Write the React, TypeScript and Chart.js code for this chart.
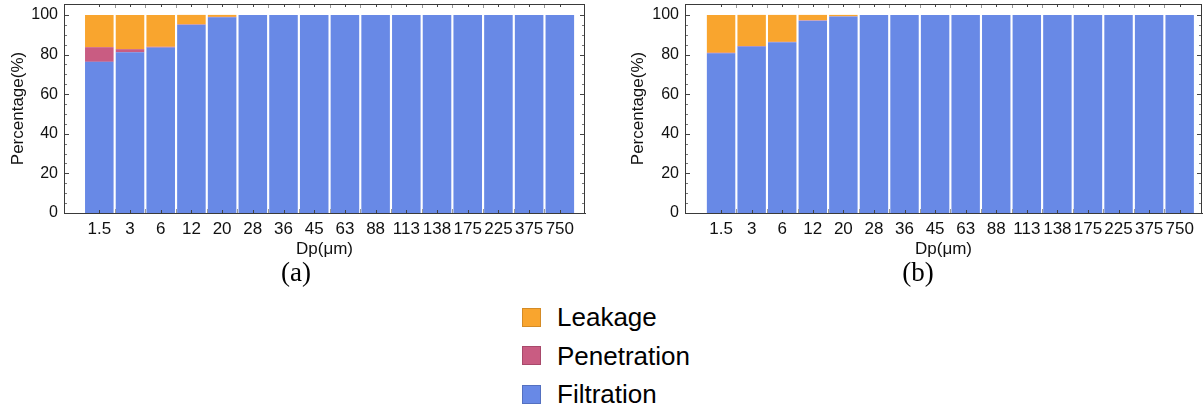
import React, { useEffect, useRef } from "react";
import { Chart, registerables } from "chart.js";

Chart.register(...registerables);

const categories = ["1.5", "3", "6", "12", "20", "28", "36", "45", "63", "88", "113", "138", "175", "225", "375", "750"];

const filtrationA = [76.3, 81.1, 83.5, 95.0, 98.8, 100, 100, 100, 100, 100, 100, 100, 100, 100, 100, 100];
const penetrationA = [7.4, 1.6, 0.4, 0.2, 0.2, 0, 0, 0, 0, 0, 0, 0, 0, 0, 0, 0];
const leakageA = [16.3, 17.3, 16.1, 4.8, 1.0, 0, 0, 0, 0, 0, 0, 0, 0, 0, 0, 0];

const filtrationB = [80.6, 84.0, 86.2, 97.1, 99.2, 100, 100, 100, 100, 100, 100, 100, 100, 100, 100, 100];
const penetrationB = [0.3, 0.3, 0.2, 0.2, 0.1, 0, 0, 0, 0, 0, 0, 0, 0, 0, 0, 0];
const leakageB = [19.1, 15.7, 13.6, 2.7, 0.7, 0, 0, 0, 0, 0, 0, 0, 0, 0, 0, 0];

const yTicks = [0, 20, 40, 60, 80, 100];
const yMinorTicks = [5, 10, 15, 25, 30, 35, 45, 50, 55, 65, 70, 75, 85, 90, 95];

const BLUE = "#6889e6";
const PINK = "#c95c82";
const ORANGE = "#f9a52e";
const FONT = "'Liberation Sans', Arial, sans-serif";

const framePlugin = {
  id: "frame",
  afterDraw(chart: any) {
    const { ctx, chartArea: a } = chart;
    const xs = chart.scales.x;
    const ys = chart.scales.y;
    ctx.save();
    ctx.lineWidth = 1;
    const vline = (x: number, y0: number, y1: number, c: string) => {
      ctx.strokeStyle = c;
      ctx.beginPath();
      ctx.moveTo(Math.round(x) + 0.5, y0);
      ctx.lineTo(Math.round(x) + 0.5, y1);
      ctx.stroke();
    };
    const hline = (y: number, x0: number, x1: number, c: string) => {
      ctx.strokeStyle = c;
      ctx.beginPath();
      ctx.moveTo(x0, Math.round(y) + 0.5);
      ctx.lineTo(x1, Math.round(y) + 0.5);
      ctx.stroke();
    };
    categories.forEach((_, i) => {
      const xc = xs.getPixelForValue(i + 1);
      vline(xc, a.bottom - 3, a.bottom, "#444");
      vline(xc, a.top, a.top + 3, "#444");
      if (i > 0) {
        const xb = xs.getPixelForValue(i + 0.5);
        vline(xb, a.bottom - 4, a.bottom, "#999");
        vline(xb, a.top, a.top + 4, "#999");
      }
    });
    yTicks.forEach((v) => {
      const y = ys.getPixelForValue(v);
      hline(y, a.left, a.left + 5, "#444");
      hline(y, a.right - 5, a.right, "#444");
    });
    yMinorTicks.forEach((v) => {
      const y = ys.getPixelForValue(v);
      hline(y, a.left, a.left + 3, "#777");
      hline(y, a.right - 3, a.right, "#777");
    });
    ctx.strokeStyle = "#3a3a3a";
    ctx.strokeRect(Math.round(a.left) + 0.5, Math.round(a.top) + 0.5, Math.round(a.right - a.left) - 1, Math.round(a.bottom - a.top));
    ctx.restore();
  },
};

type PanelProps = {
  filtration: number[];
  penetration: number[];
  leakage: number[];
  xMin: number;
  xMax: number;
  axisWidth: number;
  padRight: number;
  width: number;
  left: number;
};

function Panel(p: PanelProps) {
  const ref = useRef<HTMLCanvasElement>(null);
  useEffect(() => {
    const toPts = (arr: number[]) => arr.map((v, i) => ({ x: i + 1, y: v }));
    const common = { barPercentage: 0.93, categoryPercentage: 1, borderWidth: 0 };
    const chart = new Chart(ref.current!, {
      type: "bar",
      data: {
        datasets: [
          { label: "Filtration", data: toPts(p.filtration), backgroundColor: BLUE, ...common },
          { label: "Penetration", data: toPts(p.penetration), backgroundColor: PINK, ...common },
          { label: "Leakage", data: toPts(p.leakage), backgroundColor: ORANGE, ...common },
        ],
      } as any,
      options: {
        animation: false,
        responsive: false,
        maintainAspectRatio: false,
        layout: { padding: { top: 4, right: p.padRight, bottom: 0, left: 0 } },
        plugins: { legend: { display: false }, tooltip: { enabled: false } },
        scales: {
          x: {
            type: "linear",
            stacked: true,
            offset: false,
            min: p.xMin,
            max: p.xMax,
            grid: { display: false, drawTicks: false },
            border: { display: true, color: "#3a3a3a" },
            afterBuildTicks: (s: any) => {
              s.ticks = categories.map((_, i) => ({ value: i + 1 }));
            },
            afterFit: (s: any) => {
              s.height = 49;
              s.paddingLeft = 0;
              s.paddingRight = 0;
            },
            ticks: {
              autoSkip: false,
              maxRotation: 0,
              padding: 6,
              color: "#111",
              font: { family: FONT, size: 17 },
              callback: (v: any) => categories[Math.round(v) - 1] ?? "",
            },
            title: {
              display: true,
              text: "Dp(\u03bcm)",
              color: "#111",
              font: { family: FONT, size: 17 },
              padding: { top: 0, bottom: 2 },
            },
          },
          y: {
            stacked: true,
            min: 0,
            max: 105.5,
            grid: { display: false, drawTicks: false },
            border: { display: true, color: "#3a3a3a" },
            afterBuildTicks: (s: any) => {
              s.ticks = yTicks.map((v) => ({ value: v }));
            },
            afterFit: (s: any) => {
              s.width = p.axisWidth;
              s.paddingTop = 0;
              s.paddingBottom = 0;
            },
            ticks: {
              padding: 6,
              color: "#111",
              font: { family: FONT, size: 16 },
            },
            title: {
              display: true,
              text: "Percentage(%)",
              color: "#111",
              font: { family: FONT, size: 17 },
              padding: { top: 8, bottom: 0 },
            },
          },
        },
      } as any,
      plugins: [framePlugin],
    });
    return () => chart.destroy();
  }, []);
  return (
    <canvas
      ref={ref}
      width={p.width}
      height={262}
      style={{ position: "absolute", left: p.left, top: 0, width: p.width, height: 262 }}
    />
  );
}

const legendItems = [
  { label: "Leakage", color: ORANGE, border: "#d48b26" },
  { label: "Penetration", color: PINK, border: "#a8496b" },
  { label: "Filtration", color: BLUE, border: "#5470c0" },
];

export default function App() {
  return (
    <div style={{ position: "fixed", left: 0, top: 0, width: 1203, height: 408, background: "#fff", overflow: "hidden" }}>
      <Panel filtration={filtrationA} penetration={penetrationA} leakage={leakageA} xMin={-0.15} xMax={16.82} axisWidth={64} padRight={15} width={600} left={0} />
      <Panel filtration={filtrationB} penetration={penetrationB} leakage={leakageB} xMin={-0.18} xMax={16.73} axisWidth={65} padRight={1} width={583} left={620} />
      <div style={{ position: "absolute", left: 246, top: 256, width: 100, textAlign: "center", fontFamily: "'Liberation Serif', 'Times New Roman', serif", fontSize: 27, lineHeight: "32px", color: "#000" }}>(a)</div>
      <div style={{ position: "absolute", left: 868, top: 256, width: 100, textAlign: "center", fontFamily: "'Liberation Serif', 'Times New Roman', serif", fontSize: 27, lineHeight: "32px", color: "#000" }}>(b)</div>
      {legendItems.map((it, i) => (
        <div key={it.label} style={{ position: "absolute", left: 522, top: 301 + i * 38.7, height: 32, display: "flex", alignItems: "center" }}>
          <div style={{ width: 17, height: 17, background: it.color, border: `1px solid ${it.border}`, boxSizing: "content-box" }} />
          <div style={{ marginLeft: 16, fontFamily: FONT, fontSize: 26, lineHeight: "32px", color: "#000" }}>{it.label}</div>
        </div>
      ))}
    </div>
  );
}
